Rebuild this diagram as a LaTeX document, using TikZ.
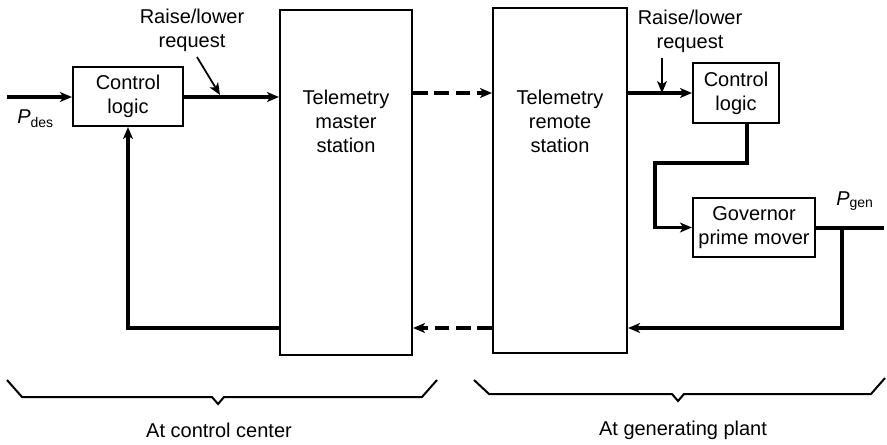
\documentclass[tikz,border=0pt]{standalone}
\usepackage{fontspec}
\setmainfont{Liberation Sans}
\usetikzlibrary{arrows.meta}
\begin{document}
\begin{tikzpicture}[x=0.75pt,y=-0.75pt,
  txt/.style={align=center,inner sep=0pt,font=\fontsize{15}{18}\selectfont},
  blk/.style={draw,line width=1.6pt,txt},
  sig/.style={line width=2.6pt},
  arr/.style={-{Stealth[length=9pt,width=7.5pt,inset=2.5pt]}},
  link/.style={sig,dash pattern=on 11pt off 5pt}]
\useasboundingbox (0,0) rectangle (887,445);
\node[blk,minimum width=82.5pt,minimum height=44.25pt] (cl1) at (128,96.5) {Control\\logic};
\node[blk,minimum width=99pt,minimum height=258.75pt] (master) at (346,182.5) {};
\node[txt] (mastertxt) at (346,121.5) {Telemetry\\master\\station};
\node[blk,minimum width=100.5pt,minimum height=258.75pt] (remote) at (560,180.5) {};
\node[txt] (remotetxt) at (560,121.5) {Telemetry\\remote\\station};
\node[blk,minimum width=64.5pt,minimum height=45pt] (cl2) at (736,93) {Control\\logic};
\node[blk,minimum width=91.5pt,minimum height=44.25pt] (gov) at (754,227.5) {Governor\\prime mover};
\node[txt] (rl1) at (192,30) {Raise/lower\\request};
\node[txt] (rl2) at (690,31) {Raise/lower\\request};
\node[txt,anchor=base west] (pdes) at (17,124) {\textit{P}\textsubscript{des}};
\node[txt,anchor=base west] (pgen) at (836,205) {\textit{P}\textsubscript{gen}};
\node[txt] (cc) at (219,430) {At control center};
\node[txt] (gp) at (683,430) {At generating plant};
\coordinate (pin) at (7,97);
\coordinate (rq1) at (197,57);
\coordinate (rq1e) at (220,95);
\coordinate (rq2) at (662,58);
\coordinate (rq2e) at (662,93);
\coordinate (bend) at (655,163);
\coordinate (tap) at (842,228);
\coordinate (fb) at (842,328);
\coordinate (pout) at (884,228);
\draw[sig,arr] (pin) -- (cl1.west |- pin);
\draw[sig,arr] (cl1.east |- pin) -- (master.west |- pin);
\draw[line width=1.3pt,arr] (rq1) -- (rq1e);
\draw[link,arr] (master.east |- cl2) -- (remote.west |- cl2);
\draw[sig,arr] (remote.east |- cl2) -- (cl2.west);
\draw[line width=1.3pt,arr] (rq2) -- (rq2e);
\draw[sig,arr] ([xshift=8.25pt]cl2.south) |- (bend) |- (gov.west);
\draw[sig] (gov.east |- tap) -- (pout);
\draw[sig,arr] (tap) -- (fb) -- (fb -| remote.east);
\draw[link,arr] (remote.west |- fb) -- (fb -| master.east);
\draw[sig,arr] (master.west |- fb) -| (cl1.south);
\draw[line width=1.5pt] (7,380) -- (22,397) -- (212,397) -- (218,404) -- (224,397) -- (422,397) -- (437,380);
\draw[line width=1.5pt] (474,380) -- (489,394) -- (672,394) -- (678,401) -- (684,394) -- (871,394) -- (885,378);
\end{tikzpicture}
\end{document}
